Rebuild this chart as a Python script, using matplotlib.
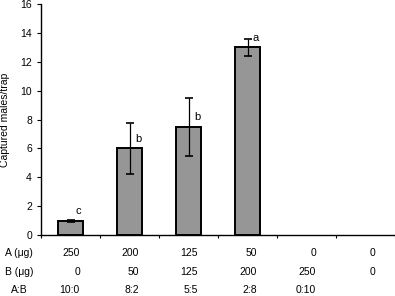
import numpy as np
import matplotlib
matplotlib.use("Agg")
import matplotlib.pyplot as plt

plt.rcParams['font.family'] = ['Liberation Sans', 'DejaVu Sans']

# data
means = [1.0, 6.0, 7.5, 13.0, 0, 0]
errs = [0.07, 1.75, 2.0, 0.6, 0, 0]
letters = ['c', 'b', 'b', 'a', '', '']
a_ug = ['250', '200', '125', '50', '0', '0']
b_ug = ['0', '50', '125', '200', '250', '0']
ratio = ['10:0', '8:2', '5:5', '2:8', '0:10', '']
row_labels = ['A (\u03bcg)', 'B (\u03bcg)', 'A:B']

fs = 7.5
fig = plt.figure(figsize=(3.95, 2.96), dpi=100)
ax = fig.add_axes([41 / 395, 1 - 235 / 296, 354 / 395, 231 / 296])

x = np.arange(len(means))
n = 4  # only bars with data
ax.bar(x[:n], means[:n], width=0.41, color='#969696', edgecolor='black', linewidth=1.4, zorder=2)
ax.errorbar(x[:n], means[:n], yerr=errs[:n], fmt='none', ecolor='black',
            elinewidth=0.9, capsize=3, capthick=1.2, zorder=3)
for i in range(n):
    ax.text(x[i] + 0.09, means[i] + 0.3, letters[i], fontsize=fs + 0.5, ha='left', va='bottom')

ax.set_xlim(-0.5, 5.5)
ax.set_ylim(0, 16)
ax.set_yticks(np.arange(0, 17, 2))
ax.set_xticks(np.arange(-0.5, 5.6, 1))
ax.set_xticklabels([])
ax.tick_params(axis='both', labelsize=fs, length=3, width=0.8, direction='out')
ax.tick_params(axis='x', length=2.5)
for s in ['top', 'right']:
    ax.spines[s].set_visible(False)
for s in ['left', 'bottom']:
    ax.spines[s].set_linewidth(1.0)
ax.set_ylabel('Captured males/trap', fontsize=fs, labelpad=7)

# table of doses below the axis
rows = [a_ug, b_ug, ratio]
ys = [256, 275, 293]
for r, lab, yp in zip(rows, row_labels, ys):
    yy = 1 - yp / 296
    fig.text(19 / 395, yy, lab, fontsize=fs, ha='center', va='baseline')
    for i, v in enumerate(r):
        xf = ax.transData.transform((x[i] + 0.16, 0))[0] / fig.bbox.width
        fig.text(xf, yy, v, fontsize=fs, ha='right', va='baseline')

fig.savefig('out.png', dpi=100)
